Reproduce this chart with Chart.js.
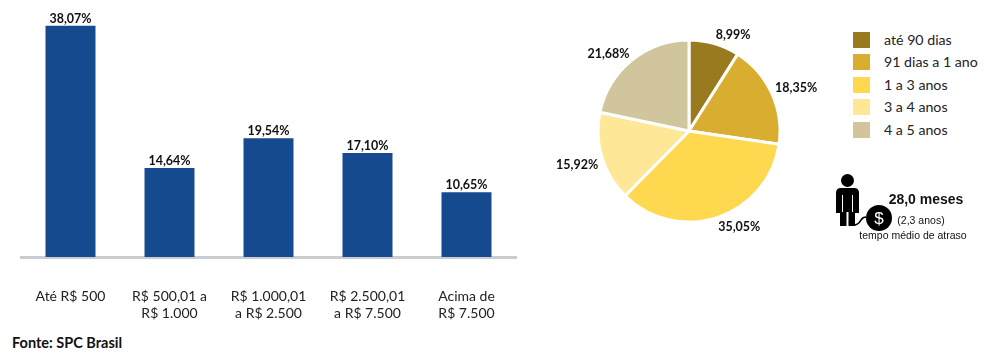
<!DOCTYPE html>
<html lang="pt-BR">
<head>
<meta charset="utf-8">
<title>SPC Brasil</title>
<script src="https://cdn.jsdelivr.net/npm/chart.js@4"></script>
<style>
  html, body { margin: 0; padding: 0; background: #fff; }
  body { position: relative; width: 1000px; height: 360px; overflow: hidden; font-family: Lato, sans-serif; color: #111; }
  canvas, svg, .txt, #legend { position: absolute; }
  #barChart { left: 0; top: 0; }
  #pieChart { left: 539px; top: 0; }
  #source { left: 12px; top: 334px; font-weight: 700; font-size: 14.5px; line-height: 18px; }
  #legend { left: 853px; top: 32px; }
  .row { position: absolute; left: 0; white-space: nowrap; font-size: 14.2px; line-height: 16px; color: #222; }
  .row i { position: absolute; left: 0; top: 0; width: 17px; height: 16px; }
  .row span { position: absolute; left: 31px; top: 0; }
  .arial { font-family: "Liberation Sans", sans-serif; white-space: nowrap; text-align: center; }
</style>
</head>
<body>
<canvas id="barChart" width="537" height="330"></canvas>
<canvas id="pieChart" width="300" height="262"></canvas>
<div id="legend"></div>

<svg style="left:830px;top:170px" width="66" height="66" viewBox="830 170 66 66">
  <circle cx="847.5" cy="180.5" r="6.5" fill="#000"/>
  <path d="M841 188h13q5 0 5 5v20h-4v13h-6.5v-14h-2v14h-6.5v-13h-4v-20q0-5 5-5z" fill="#000"/>
  <path d="M842.5 195v17M852.5 195v17" stroke="#fff" stroke-width="1" fill="none"/>
  <path d="M849 222q3 4 6 3q4-1 6-5q2-3 5-3" fill="none" stroke="#000" stroke-width="1.5"/>
  <circle cx="879" cy="218" r="13" fill="#000"/>
  <text x="879" y="224" font-family="Liberation Sans" font-size="17" fill="#fff" text-anchor="middle">$</text>
</svg>
<div class="txt arial" style="left:886px;top:191px;width:80px;font-weight:700;font-size:14px;line-height:16px">28,0 meses</div>
<div class="txt arial" style="left:891px;top:214px;width:60px;font-size:10.5px;line-height:12px">(2,3 anos)</div>
<div class="txt arial" style="left:853px;top:229px;width:120px;font-size:10.5px;line-height:12px">tempo médio de atraso</div>
<div id="source" class="txt">Fonte: SPC Brasil</div>

<script>
const barCategories = [
  "Até R$ 500",
  ["R$ 500,01 a", "R$ 1.000"],
  ["R$ 1.000,01", "a R$ 2.500"],
  ["R$ 2.500,01", "a R$ 7.500"],
  ["Acima de", "R$ 7.500"],
];
const barValues = [38.07, 14.64, 19.54, 17.1, 10.65];

const pieCategories = ["até 90 dias", "91 dias a 1 ano", "1 a 3 anos", "3 a 4 anos", "4 a 5 anos"];
const pieValues = [8.99, 18.35, 35.05, 15.92, 21.68];
const pieColors = ["#9a7a1e", "#d9ae30", "#fed94f", "#fee897", "#d0c59c"];

// labels were placed by hand in the original, nudges from the slice direction
const pieLabelNudges = [[14, 8], [9, 2], [16, -6], [-8.5, 2.5], [-12.5, 7]];

const labelFont = "700 12.5px Lato, sans-serif";
const formatPercent = (v) => v.toFixed(2).replace(".", ",") + "%";

const barValueLabels = {
  id: "barValueLabels",
  afterDatasetsDraw(chart) {
    const ctx = chart.ctx;
    ctx.save();
    ctx.font = labelFont;
    ctx.fillStyle = "#111";
    ctx.textAlign = "center";
    ctx.textBaseline = "bottom";
    chart.getDatasetMeta(0).data.forEach((bar, i) => {
      ctx.fillText(formatPercent(barValues[i]), bar.x, bar.y - 1);
    });
    ctx.restore();
  },
};

const pieValueLabels = {
  id: "pieValueLabels",
  afterDatasetsDraw(chart) {
    const ctx = chart.ctx;
    ctx.save();
    ctx.font = labelFont;
    ctx.fillStyle = "#111";
    ctx.textAlign = "center";
    ctx.textBaseline = "middle";
    chart.getDatasetMeta(0).data.forEach((arc, i) => {
      const mid = (arc.startAngle + arc.endAngle) / 2;
      const r = arc.outerRadius + 17;
      ctx.fillText(
        formatPercent(pieValues[i]),
        arc.x + Math.cos(mid) * r + pieLabelNudges[i][0],
        arc.y + Math.sin(mid) * r + pieLabelNudges[i][1]
      );
    });
    ctx.restore();
  },
};

new Chart(document.getElementById("barChart").getContext("2d"), {
  type: "bar",
  data: {
    labels: barCategories,
    datasets: [{ data: barValues, backgroundColor: "#164a8f", categoryPercentage: 1, barPercentage: 0.505 }],
  },
  options: {
    responsive: false,
    animation: false,
    layout: { padding: { left: 21, right: 21, top: 14, bottom: 0 } },
    plugins: { legend: { display: false }, tooltip: { enabled: false } },
    scales: {
      y: { display: false, min: 0, max: 40 },
      x: {
        afterFit(scale) {
          scale.height = 73;
        },
        grid: { display: false },
        border: { color: "#c9cdd1", width: 3 },
        ticks: {
          padding: 23,
          maxRotation: 0,
          autoSkip: false,
          color: "#222",
          font: { family: "Lato, sans-serif", size: 14 },
        },
      },
    },
  },
  plugins: [barValueLabels],
});

new Chart(document.getElementById("pieChart").getContext("2d"), {
  type: "pie",
  data: {
    labels: pieCategories,
    datasets: [{ data: pieValues, backgroundColor: pieColors, borderColor: "#fff", borderWidth: 3, radius: 91 }],
  },
  options: {
    responsive: false,
    animation: false,
    plugins: { legend: { display: false }, tooltip: { enabled: false } },
  },
  plugins: [pieValueLabels],
});

// legend with the row pitch of the original
const legendBox = document.getElementById("legend");
pieCategories.forEach((name, i) => {
  const row = document.createElement("div");
  row.className = "row";
  row.style.top = i * 22.4 + "px";
  row.innerHTML = '<i style="background:' + pieColors[i] + '"></i><span>' + name + "</span>";
  legendBox.appendChild(row);
});
</script>
</body>
</html>
